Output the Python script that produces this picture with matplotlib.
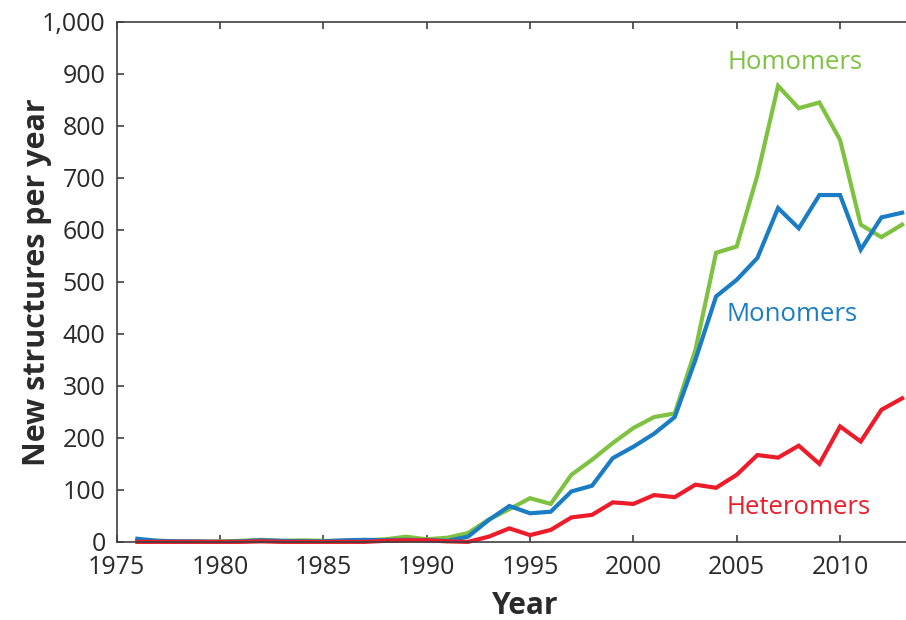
import matplotlib
matplotlib.use("Agg")
import matplotlib.pyplot as plt
from matplotlib.ticker import FuncFormatter

# new structures deposited per year, 1976-2013
years = list(range(1976, 2014))

homomers = [3, 2, 1, 0, 1, 2, 4, 2, 3, 2, 2, 3, 5, 10, 5, 8,
            17, 43, 63, 84, 73, 129, 158, 190, 219, 240, 247, 369,
            556, 568, 705, 877, 834, 845, 773, 610, 586, 610]

monomers = [6, 2, 1, 1, 0, 1, 3, 2, 1, 1, 3, 4, 3, 4, 3, 2,
            10, 42, 69, 55, 58, 97, 108, 161, 183, 208, 240, 350,
            472, 504, 546, 642, 603, 667, 667, 562, 624, 633]

heteromers = [0, 0, 0, 0, 0, 0, 1, 0, 0, 0, 0, 0, 2, 3, 3, 1,
              0, 10, 26, 13, 23, 47, 52, 76, 73, 90, 86, 110,
              104, 129, 167, 162, 185, 150, 222, 193, 254, 276]

series = [
    ("Homomers", homomers, "#7fc241", (2007.8, 921)),
    ("Monomers", monomers, "#1a7cc4", (2007.7, 437)),
    ("Heteromers", heteromers, "#ec1c2a", (2008.0, 67)),
]

plt.rcParams["font.family"] = ["Open Sans", "DejaVu Sans"]

fig = plt.figure(figsize=(9.06, 6.2), dpi=100)
ax = fig.add_axes([0.1288, 0.126, 0.8712, 0.8387])

for name, values, color, (tx, ty) in series:
    ax.plot(years, values, color=color, linewidth=3.0, clip_on=False,
            solid_joinstyle="miter")
    ax.text(tx, ty, name, color=color, fontsize=18.5, ha="center", va="center")

ax.set_xlim(1975, 2013.19)
ax.set_ylim(0, 1000)
ax.set_xticks(range(1975, 2015, 5))
ax.set_yticks(range(0, 1001, 100))
ax.yaxis.set_major_formatter(FuncFormatter(lambda v, _: f"{int(v):,}"))

edge = "#404040"
for side in ["left", "top", "bottom"]:
    ax.spines[side].set_color(edge)
    ax.spines[side].set_linewidth(1.2)
ax.spines["right"].set_visible(False)

ax.tick_params(axis="x", direction="in", top=True, length=5, width=1.2,
               color=edge, labelsize=18, labelcolor="#2a2a2a", pad=9.5)
ax.tick_params(axis="y", direction="in", length=5, width=1.2,
               color=edge, labelsize=18, labelcolor="#2a2a2a", pad=8)

ax.set_ylabel("New structures per year", fontsize=22, fontweight="bold",
              color="#2a2a2a", ha="center", va="center")
ax.yaxis.set_label_coords(-0.101, 0.5)
ax.set_xlabel("Year", fontsize=21.5, fontweight="bold", color="#2a2a2a",
              ha="center", va="center")
ax.xaxis.set_label_coords(0.517, -0.123)

fig.savefig("out.png", dpi=100)
plt.close(fig)
